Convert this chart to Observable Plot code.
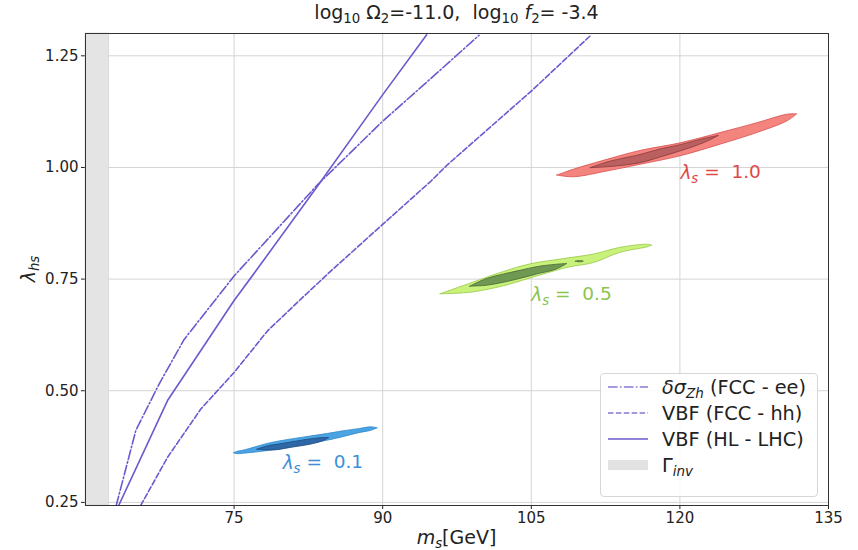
<!DOCTYPE html>
<html>
<head>
<meta charset="utf-8">
<script src="https://cdn.jsdelivr.net/npm/d3@7"></script>
<script src="https://cdn.jsdelivr.net/npm/@observablehq/plot@0.6"></script>
<style>
  html, body { margin: 0; padding: 0; background: white; }
  #wrap { position: relative; width: 858px; height: 550px; font-family: "DejaVu Sans", sans-serif; color: #222; }
  .ov { position: absolute; white-space: pre; line-height: 1; }
  sub { font-size: 0.7em; vertical-align: -0.3em; line-height: 0; }
  #legend { position: absolute; left: 600px; top: 373px; width: 216px; height: 122px;
            border: 1px solid #d6d6d6; border-radius: 4px; background: rgba(255,255,255,0.85); }
  .row { position: absolute; left: 0; height: 26px; width: 216px; font-size: 19.3px; }
  .row svg { position: absolute; left: 7px; top: 7px; }
  .row span { position: absolute; left: 61px; top: 2px; white-space: pre; }
</style>
</head>
<body>
<div id="wrap"></div>
<script>
// ---- axis ticks ----
const xTicks = [75, 90, 105, 120, 135];
const yTicks = [0.25, 0.50, 0.75, 1.00, 1.25];

// ---- Gamma_inv excluded band (m_s range) ----
const bandM = [60, 62.4];

// ---- constraint lines ----
const eeM = [63.1, 65.08, 67.43, 69.96, 75.0, 83.41, 89.97, 94.85, 99.72];
const eeL = [0.243, 0.411, 0.515, 0.615, 0.757, 0.961, 1.103, 1.199, 1.296];
const hhM = [65.57, 68.28, 71.64, 75.0, 78.37, 81.73, 84.76, 89.97, 94.85, 96.53, 105.1, 111.0];
const hhL = [0.243, 0.351, 0.459, 0.541, 0.634, 0.705, 0.768, 0.872, 0.969, 1.006, 1.173, 1.296];
const hlM = [63.35, 68.28, 75.0, 77.19, 83.41, 89.97, 94.44];
const hlL = [0.243, 0.478, 0.702, 0.768, 0.958, 1.162, 1.297];

// ---- contour blobs (m_s, lower / upper lambda_hs) ----
const blueOutM  = [75.0, 75.3, 76.0, 78.4, 80.0, 82.0, 84.4, 86.0, 87.6, 88.8, 89.5];
const blueOutLo = [0.360, 0.358, 0.359, 0.365, 0.371, 0.379, 0.388, 0.396, 0.405, 0.410, 0.416];
const blueOutHi = [0.360, 0.363, 0.366, 0.381, 0.388, 0.395, 0.403, 0.409, 0.414, 0.418, 0.416];
const blueInM  = [77.36, 78.5, 79.4, 81.0, 82.7, 84.0, 84.6];
const blueInLo = [0.368, 0.366, 0.367, 0.373, 0.379, 0.387, 0.394];
const blueInHi = [0.368, 0.376, 0.379, 0.385, 0.391, 0.394, 0.394];

const greenOutM  = [95.85, 98.88, 102.24, 104.93, 108.64, 111.32, 114.01, 116.71, 117.21];
const greenOutLo = [0.716, 0.7195, 0.734, 0.7515, 0.775, 0.786, 0.809, 0.821, 0.825];
const greenOutHi = [0.716, 0.740, 0.766, 0.783, 0.796, 0.805, 0.820, 0.827, 0.825];
const greenInM  = [98.84, 100.5, 102.24, 104.0, 105.6, 107.5, 108.64];
const greenInLo = [0.733, 0.735, 0.7418, 0.751, 0.7604, 0.771, 0.784];
const greenInHi = [0.733, 0.750, 0.7604, 0.769, 0.7768, 0.782, 0.784];
const greenDotM  = [109.5, 109.9, 110.3];
const greenDotLo = [0.789, 0.7875, 0.789];
const greenDotHi = [0.789, 0.7905, 0.789];

const redOutM  = [107.63, 109.3, 112.67, 116.03, 120.07, 124.1, 127.8, 130.83, 131.84];
const redOutLo = [0.982, 0.978, 0.991, 1.006, 1.025, 1.051, 1.077, 1.103, 1.119];
const redOutHi = [0.982, 0.995, 1.017, 1.037, 1.054, 1.077, 1.099, 1.118, 1.119];
const redInM  = [110.99, 113.0, 116.03, 118.0, 120.07, 122.5, 123.93];
const redInLo = [0.9985, 1.001, 1.0097, 1.022, 1.036, 1.055, 1.0707];
const redInHi = [0.9985, 1.013, 1.028, 1.040, 1.050, 1.064, 1.0707];

// ---- blob labels ----
const labelM = [79.9, 105.0, 120.05];
const labelL = [0.337, 0.714, 0.987];
const labelText = ["λs =  0.1", "λs =  0.5", "λs =  1.0"];
const labelColor = ["#3a8fd6", "#8cc44e", "#e04848"];

const lineColor = "#6a5acd";

function blob(m, lo, hi, fill, stroke) {
  return Plot.areaY(m, {x: m, y1: lo, y2: hi, fill, stroke, strokeWidth: 0.8, curve: "catmull-rom"});
}

const chart = Plot.plot({
  width: 858, height: 550,
  marginLeft: 85, marginRight: 30, marginTop: 33, marginBottom: 45,
  style: {fontFamily: "DejaVu Sans, sans-serif", fontSize: "15px", color: "#222", background: "white"},
  x: {domain: [60, 135], ticks: xTicks, tickSize: 4, tickPadding: 3, label: null, tickFormat: d => String(d)},
  y: {domain: [0.243, 1.30], ticks: yTicks, tickSize: 4, tickPadding: 3, label: null, tickFormat: d3.format(".2f")},
  marks: [
    Plot.ruleX(xTicks, {stroke: "#d4d4d4", strokeWidth: 1}),
    Plot.ruleY(yTicks, {stroke: "#d4d4d4", strokeWidth: 1}),
    Plot.rect([bandM], {x1: d => d[0], x2: d => d[1], y1: 0.243, y2: 1.30, fill: "#e4e4e4", stroke: "#cfcfcf", strokeWidth: 0.6}),
    blob(blueOutM, blueOutLo, blueOutHi, "#4aa4e4", "#2f86c8"),
    blob(blueInM, blueInLo, blueInHi, "#2e68a6", "#1d4a80"),
    blob(greenOutM, greenOutLo, greenOutHi, "#c9f27c", "#98c848"),
    blob(greenInM, greenInLo, greenInHi, "#6f9852", "#4a6a34"),
    blob(greenDotM, greenDotLo, greenDotHi, "#6f9852", "#4a6a34"),
    blob(redOutM, redOutLo, redOutHi, "#f4847e", "#d85050"),
    blob(redInM, redInLo, redInHi, "#ba6060", "#8a3a3a"),
    Plot.line(eeM, {x: eeM, y: eeL, stroke: lineColor, strokeWidth: 1.6, strokeDasharray: "9.6,2.4,1.5,2.4", clip: true}),
    Plot.line(hhM, {x: hhM, y: hhL, stroke: lineColor, strokeWidth: 1.6, strokeDasharray: "5.5,2.4", clip: true}),
    Plot.line(hlM, {x: hlM, y: hlL, stroke: lineColor, strokeWidth: 1.6, clip: true}),
    Plot.text(labelText, {x: labelM, y: labelL, text: labelText, fill: labelColor, fontSize: 18.5, textAnchor: "start"}),
    Plot.frame({stroke: "#333", strokeWidth: 1})
  ]
});

// subscripts in blob labels
d3.select(chart).selectAll("text").each(function() {
  const t = this.textContent;
  if (t.startsWith("λs")) {
    const sel = d3.select(this);
    sel.text(null).style("white-space", "pre");
    sel.append("tspan").attr("font-style", "italic").text("λ");
    sel.append("tspan").attr("dy", "0.3em").attr("font-size", "0.72em").attr("font-style", "italic").text("s");
    sel.append("tspan").attr("dy", "-0.3em").text(t.slice(2));
  }
});

const wrap = document.getElementById("wrap");
wrap.appendChild(chart);

function addDiv(html, css) {
  const d = document.createElement("div");
  d.className = "ov";
  d.innerHTML = html;
  Object.assign(d.style, css);
  wrap.appendChild(d);
  return d;
}

// title
addDiv("log<sub>10</sub> Ω<sub>2</sub>=-11.0,  log<sub>10</sub> <i>f</i><sub>2</sub>= -3.4",
  {left: "85px", width: "743px", top: "3px", textAlign: "center", fontSize: "19px"});
// x label
addDiv("<i>m</i><sub><i>s</i></sub>[GeV]", {left: "85px", width: "743px", top: "528px", textAlign: "center", fontSize: "19px"});
// y label
addDiv("<i>λ</i><sub><i>hs</i></sub>", {left: "0px", top: "259px", width: "60px", textAlign: "center", fontSize: "19px",
  transform: "translate(-1px,0) rotate(-90deg)", transformOrigin: "30px 10px"});

// legend
const legend = document.createElement("div");
legend.id = "legend";
const items = [
  {html: "<i>δσ</i><sub><i>Zh</i></sub> (FCC - ee)", sw: `<line x1="0" y1="6" x2="40" y2="6" stroke="${lineColor}" stroke-width="1.5" stroke-dasharray="9.6,2.4,1.5,2.4" opacity="0.8"/>`},
  {html: "VBF (FCC - hh)", sw: `<line x1="0" y1="6" x2="40" y2="6" stroke="${lineColor}" stroke-width="1.5" stroke-dasharray="5.5,2.4" opacity="0.8"/>`},
  {html: "VBF (HL - LHC)", sw: `<line x1="0" y1="6" x2="40" y2="6" stroke="${lineColor}" stroke-width="1.5"/>`},
  {html: "Γ<sub><i>inv</i></sub>", sw: `<rect x="0" y="1" width="40" height="10" fill="#e2e2e2"/>`}
];
items.forEach((it, i) => {
  const r = document.createElement("div");
  r.className = "row";
  r.style.top = (i * 26) + "px";
  r.innerHTML = `<svg width="40" height="12">${it.sw}</svg><span>${it.html}</span>`;
  legend.appendChild(r);
});
wrap.appendChild(legend);
</script>
</body>
</html>
